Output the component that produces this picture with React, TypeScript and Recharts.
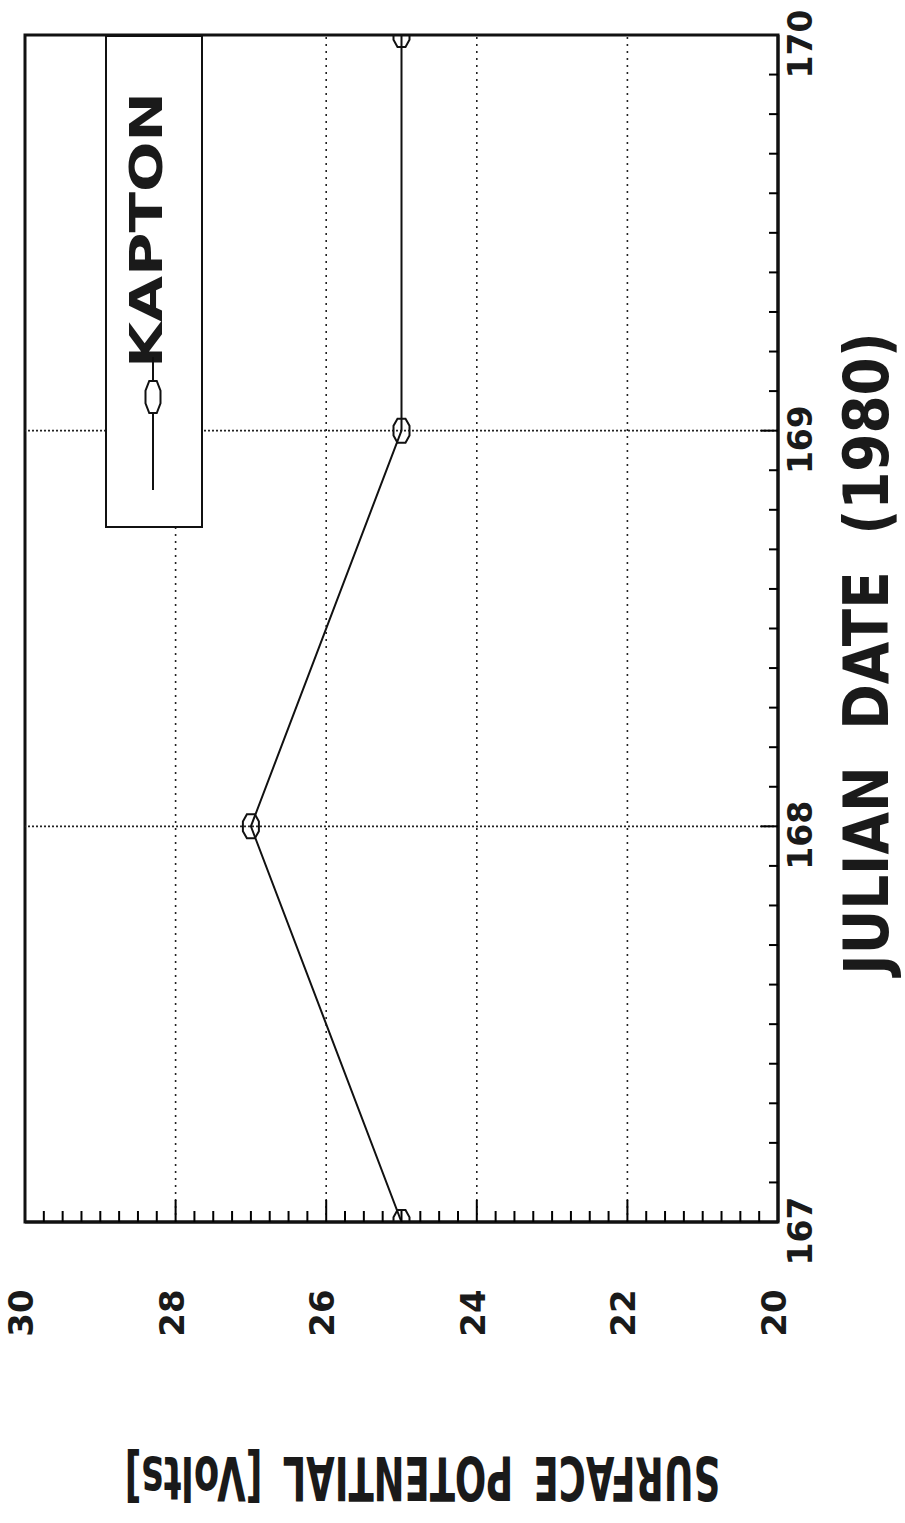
import React from 'react';
import { ScatterChart, Scatter, XAxis, YAxis, ReferenceLine, ReferenceArea, Legend, Label } from 'recharts';

const dates = [167, 168, 169, 170];
const kapton = [25, 27, 25, 25];
const valueTickLabels = [20, 22, 24, 26, 28, 30];
const dateTickLabels = [167, 168, 169, 170];
const valueGrid = [22, 24, 26, 28];
const dateGrid = [168, 169];
const seriesName = 'KAPTON';
const xTitle = 'JULIAN DATE (1980)';
const yTitle = 'SURFACE POTENTIAL [Volts]';

const data = dates.map((d, i) => ({ d, v: kapton[i] }));
const valueTicks = Array.from({ length: 41 }, (_, i) => 20 + i * 0.25);
const dateTicks = Array.from({ length: 31 }, (_, i) => Math.round((167 + i * 0.1) * 10) / 10);

const FONT = '"DejaVu Sans", sans-serif';

const isIn = (arr: number[], v: number) => arr.some((t) => Math.abs(t - v) < 1e-6);

const ValueTick = (props: any) => {
  const { x, y, payload } = props;
  const v = payload.value;
  const major = isIn(valueTickLabels, v);
  const inner = v > 20.01 && v < 29.99;
  const bx = x + 8;
  const by = y + 91;
  return (
    <g>
      {inner && (
        <line x1={x} y1={y} x2={x} y2={y - (major ? 22 : 11)} stroke="#000" strokeWidth={2} />
      )}
      {major && (
        <text
          x={bx}
          y={by}
          transform={`rotate(-90 ${bx} ${by})`}
          textAnchor="middle"
          fontFamily={FONT}
          fontWeight="bold"
          fontSize={34}
          fill="#1a1a1a"
        >
          {v}
        </text>
      )}
    </g>
  );
};

const DateTick = (props: any) => {
  const { x, y, payload } = props;
  const v = payload.value;
  const major = isIn(dateTickLabels, v);
  const inner = v > 167.05 && v < 169.95;
  const bx = x + 34;
  const by = y + 9;
  return (
    <g>
      {inner && (
        <line x1={x} y1={y} x2={x - (major ? 17 : 9)} y2={y} stroke="#000" strokeWidth={2} />
      )}
      {major && (
        <text
          x={bx}
          y={by}
          transform={`rotate(-90 ${bx} ${by})`}
          textAnchor="middle"
          fontFamily={FONT}
          fontWeight="bold"
          fontSize={33}
          fill="#1a1a1a"
        >
          {v}
        </text>
      )}
    </g>
  );
};

const markerPoints = (cx: number, cy: number, w: number, h: number) => {
  const hw = w / 2;
  const hh = h / 2;
  return [
    [cx - hw * 0.5, cy - hh],
    [cx + hw * 0.5, cy - hh],
    [cx + hw, cy - hh * 0.4],
    [cx + hw, cy + hh * 0.4],
    [cx + hw * 0.5, cy + hh],
    [cx - hw * 0.5, cy + hh],
    [cx - hw, cy + hh * 0.4],
    [cx - hw, cy - hh * 0.4],
  ]
    .map((p) => p.join(','))
    .join(' ');
};

const Marker = (props: any) => {
  const { cx, cy } = props;
  if (cx == null || cy == null) return null;
  return <polygon points={markerPoints(cx, cy, 16, 24)} fill="none" stroke="#111" strokeWidth={2} />;
};

const LegendBox = () => (
  <div
    style={{
      width: 98,
      height: 493,
      border: '2.5px solid #111',
      background: '#fff',
      boxSizing: 'border-box',
    }}
  >
    <svg width={93} height={488} style={{ display: 'block' }}>
      <text
        x={55}
        y={193}
        transform={`rotate(-90 55 193)`}
        textAnchor="middle"
        fontFamily={FONT}
        fontWeight="bold"
        fontSize={44}
        textLength={276}
        lengthAdjust="spacingAndGlyphs"
        fill="#1a1a1a"
      >
        {seriesName}
      </text>
      <line x1={46} y1={320} x2={46} y2={453} stroke="#111" strokeWidth={2} />
      <polygon points={markerPoints(46, 360, 15, 32)} fill="#fff" stroke="#111" strokeWidth={2} />
    </svg>
  </div>
);

const XTitle = (p: any) => {
  const { x, y, width } = p.viewBox;
  const cx = x + width / 2 + 21;
  const by = y + 235;
  return (
    <text
      x={0}
      y={0}
      transform={`translate(${cx} ${by}) rotate(180) scale(0.615 1)`}
      textAnchor="middle"
      fontFamily={FONT}
      fontWeight="bold"
      fontSize={60}
      wordSpacing={12}
      fill="#1a1a1a"
    >
      {yTitle}
    </text>
  );
};

const YTitle = (p: any) => {
  const { x, y, height } = p.viewBox;
  const bx = x + 110;
  const cy = y + height / 2 + 25;
  return (
    <text
      x={0}
      y={0}
      transform={`translate(${bx} ${cy}) rotate(-90) scale(0.87 1)`}
      textAnchor="middle"
      fontFamily={FONT}
      fontWeight="bold"
      fontSize={63}
      wordSpacing={20}
      fill="#1a1a1a"
    >
      {xTitle}
    </text>
  );
};

export default function App() {
  return (
    <div style={{ position: 'absolute', left: 0, top: 0, width: 905, height: 1523, background: '#fff' }}>
      <ScatterChart width={905} height={1523} margin={{ top: 35, right: 0, bottom: 0, left: 25 }}>
        <XAxis
          type="number"
          dataKey="v"
          domain={[20, 30]}
          reversed
          ticks={valueTicks}
          interval={0}
          height={301}
          tickSize={0}
          tickMargin={0}
          tickLine={false}
          axisLine={{ stroke: '#111', strokeWidth: 3 }}
          tick={<ValueTick />}
          allowDataOverflow
        >
          <Label content={<XTitle />} />
        </XAxis>
        <YAxis
          type="number"
          dataKey="d"
          orientation="right"
          domain={[167, 170]}
          ticks={dateTicks}
          interval={0}
          width={127}
          tickSize={0}
          tickMargin={0}
          tickLine={false}
          axisLine={{ stroke: '#111', strokeWidth: 3 }}
          tick={<DateTick />}
          allowDataOverflow
        >
          <Label content={<YTitle />} />
        </YAxis>
        {valueGrid.map((g) => (
          <ReferenceLine key={'vg' + g} x={g} stroke="#222" strokeWidth={1.6} strokeDasharray="2 5" />
        ))}
        {dateGrid.map((g) => (
          <ReferenceLine key={'dg' + g} y={g} stroke="#222" strokeWidth={1.8} strokeDasharray="2 2" />
        ))}
        <ReferenceArea x1={20} x2={30} y1={167} y2={170} fill="none" fillOpacity={0} stroke="#111" strokeWidth={3} />
        <Scatter
          name={seriesName}
          data={data}
          line={{ stroke: '#111', strokeWidth: 2 }}
          lineType="joint"
          shape={<Marker />}
          isAnimationActive={false}
        />
        <Legend
          layout="horizontal"
          verticalAlign="middle"
          align="center"
          content={<LegendBox />}
          wrapperStyle={{ left: 105, top: 35, width: 98, height: 493 }}
        />
      </ScatterChart>
    </div>
  );
}
